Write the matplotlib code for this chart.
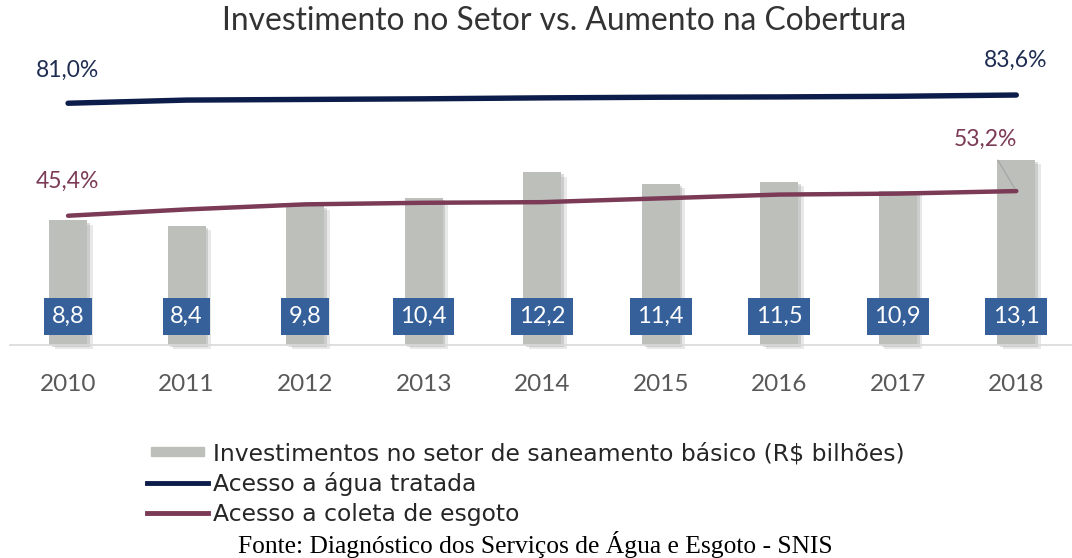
import matplotlib
matplotlib.use("Agg")
import matplotlib.pyplot as plt
import matplotlib.patheffects as pe
from matplotlib.patches import Rectangle
from matplotlib.lines import Line2D
from matplotlib.legend_handler import HandlerPatch

plt.rcParams['font.family'] = ['Lato', 'DejaVu Sans']

# data
anos = ['2010', '2011', '2012', '2013', '2014', '2015', '2016', '2017', '2018']
investimento = [8.8, 8.4, 9.8, 10.4, 12.2, 11.4, 11.5, 10.9, 13.1]
agua = [81.0, 82.0, 82.2, 82.4, 82.7, 82.9, 83.0, 83.2, 83.6]
esgoto = [45.4, 47.4, 49.0, 49.5, 49.7, 50.9, 52.1, 52.4, 53.2]
rotulos_inv = ['8,8', '8,4', '9,8', '10,4', '12,2', '11,4', '11,5', '10,9', '13,1']

c_bar = '#bdbfbb'
c_box = '#36609a'
c_agua = '#0c1d4b'
c_esgoto = '#7b3a55'
c_txt = '#595959'

W, H = 1072, 558
fig = plt.figure(figsize=(W / 100, H / 100), dpi=100)

# axes: baseline at y=345px, top at 60px
ax = fig.add_axes([10 / W, 1 - 345 / H, 1062 / W, 285 / H])
x = list(range(len(anos)))

bars = ax.bar(x, investimento, width=0.32, color=c_bar, zorder=2, clip_on=False)
for b in bars:
    b.set_path_effects([pe.SimplePatchShadow(offset=(4, -3), shadow_rgbFace='#9a9a9a', alpha=0.22),
                        pe.SimplePatchShadow(offset=(2, -1.5), shadow_rgbFace='#8c8c8c', alpha=0.3),
                        pe.Normal()])

ax.set_xlim(-0.49, 8.47)
ax.set_ylim(0, 285 / 14.15)

for s in ['top', 'right', 'left']:
    ax.spines[s].set_visible(False)
ax.spines['bottom'].set_color('#d9d9d9')
ax.spines['bottom'].set_linewidth(1.2)
ax.set_yticks([])
ax.set_xticks(x)
ax.set_xticklabels(anos, fontsize=17.5, color=c_txt)
ax.tick_params(axis='x', length=0, pad=21)

for i, r in enumerate(rotulos_inv):
    ax.annotate(r, xy=(i, 0), xytext=(0, 20.5), textcoords='offset points',
                ha='center', va='center', fontsize=17, color='white', zorder=5,
                bbox=dict(boxstyle='square,pad=0.32', fc=c_box, ec='none'))

# percent axis
ax2 = ax.twinx()
ax2.set_ylim((359.2 - 345) / 3.16, (359.2 - 60) / 3.16)
ax2.set_xlim(-0.49, 8.47)
ax2.axis('off')
ax2.plot(x, agua, color=c_agua, lw=3.9, solid_capstyle='round', solid_joinstyle='round')
ax2.plot(x, esgoto, color=c_esgoto, lw=3.2, solid_capstyle='round', solid_joinstyle='round')

ax2.annotate('81,0%', xy=(0, agua[0]), xytext=(-0.5, 24), textcoords='offset points',
             ha='center', va='center', fontsize=16.5, color='#1f2d52')
ax2.annotate('83,6%', xy=(8, agua[-1]), xytext=(-0.5, 25), textcoords='offset points',
             ha='center', va='center', fontsize=16.5, color='#1f2d52')
ax2.annotate('45,4%', xy=(0, esgoto[0]), xytext=(-0.5, 25), textcoords='offset points',
             ha='center', va='center', fontsize=16.5, color=c_esgoto)
ax2.annotate('53,2%', xy=(8, esgoto[-1]), xytext=(-22, 37), textcoords='offset points',
             ha='center', va='center', fontsize=16.5, color=c_esgoto,
             arrowprops=dict(arrowstyle='-', color='#a6a6a6', lw=0.9, shrinkA=6, shrinkB=2))

fig.text(564.5 / W, 1 - 21 / H, 'Investimento no Setor vs. Aumento na Cobertura',
         ha='center', va='center', fontsize=22.9, color='#333333')


def thin_patch(legend, orig_handle, xdescent, ydescent, width, height, fontsize):
    return Rectangle((-xdescent + 0.06 * width, -ydescent + 0.22 * height), 0.88 * width, 0.56 * height)


handles = [Rectangle((0, 0), 1, 1, color=c_bar),
           Line2D([], [], color=c_agua, lw=3.5),
           Line2D([], [], color=c_esgoto, lw=3.5)]
labels = ['Investimentos no setor de saneamento básico (R$ bilhões)',
          'Acesso a água tratada',
          'Acesso a coleta de esgoto']
fig.legend(handles, labels, loc='upper left', bbox_to_anchor=(147 / W, 1 - 442 / H),
           frameon=False, borderpad=0, borderaxespad=0,
           prop={'family': 'DejaVu Sans', 'size': 16.9},
           handlelength=2.6, handletextpad=0.2, labelspacing=0.3,
           labelcolor='#262626', handler_map={Rectangle: HandlerPatch(patch_func=thin_patch)})

fig.text(535 / W, 1 - 544 / H, 'Fonte: Diagnóstico dos Serviços de Água e Esgoto - SNIS',
         ha='center', va='center', fontsize=18.4, family='Liberation Serif', color='black')

fig.savefig('out.png', dpi=100)
